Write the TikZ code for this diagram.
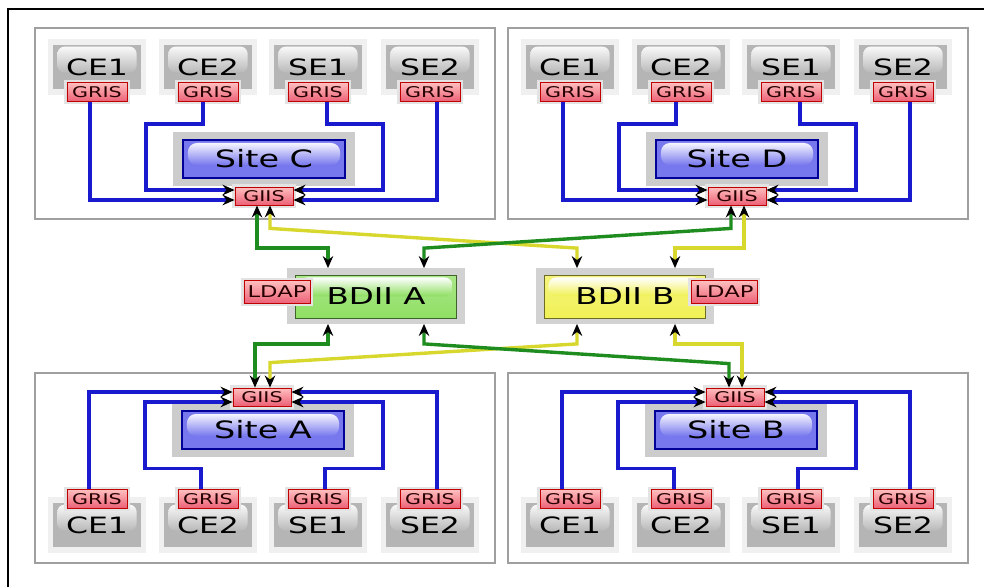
\documentclass[tikz,border=0pt]{standalone}
\usepackage{fontspec}
\usepackage{tikz}
\usetikzlibrary{arrows.meta,calc}
\newfontfamily\boxfont{DejaVu Sans}[FakeStretch=1.4]
\definecolor{lienB}{RGB}{25,25,205}
\definecolor{lienV}{RGB}{30,140,30}
\definecolor{lienJ}{RGB}{215,215,45}
\definecolor{siteF}{RGB}{120,120,238}
\definecolor{vertF}{RGB}{140,222,95}
\definecolor{jauneF}{RGB}{240,240,80}
\definecolor{rougeF}{RGB}{236,96,118}
\tikzset{
  sitearea/.style={draw=gray!75, line width=0.04cm},
  machine/.style={rectangle, inner sep=0pt, minimum width=2.43cm, minimum height=1.42cm, fill=gray!12,
    font=\boxfont\fontsize{16}{16}\selectfont,
    path picture={
      \fill[gray!58] ($(path picture bounding box.north west)+(5,6)$) rectangle ($(path picture bounding box.south east)+(-5,-6)$);
      \shade[top color=gray!5, bottom color=gray!55, rounded corners=0.18cm] ($(path picture bounding box.north west)+(9,8)$) rectangle ($(path picture bounding box.north east)+(-9,34)$);
    }},
  tag/.style={rectangle, inner sep=0pt, minimum width=1.5cm, minimum height=0.47cm, draw=red!75!black, line width=0.02cm,
    top color=red!25, bottom color=rougeF, text=red!15!black, font=\boxfont\fontsize{10.5}{10.5}\selectfont,
    preaction={draw=gray!22, line width=0.14cm}},
  sitebox/.style={rectangle, inner sep=0pt, minimum width=4.55cm, minimum height=1.35cm, fill=gray!40,
    font=\boxfont\fontsize{17}{17}\selectfont,
    path picture={
      \filldraw[fill=siteF, draw=blue!60!black, line width=0.05cm] ($(path picture bounding box.north west)+(10,8)$) rectangle ($(path picture bounding box.south east)+(-10,-8)$);
      \shade[top color=blue!4, bottom color=siteF, rounded corners=0.22cm] ($(path picture bounding box.north west)+(15,11)$) rectangle ($(path picture bounding box.north east)+(-15,33)$);
    }},
  bdii/.style={rectangle, inner sep=0pt, minimum width=4.43cm, minimum height=1.38cm, fill=gray!35,
    font=\boxfont\fontsize{16.5}{16.5}\selectfont,
    path picture={
      \filldraw[top color=#1!70, bottom color=#1, draw=#1!45!black, line width=0.03cm] ($(path picture bounding box.north west)+(8,7)$) rectangle ($(path picture bounding box.south east)+(-8,-5)$);
      \shade[top color=white, bottom color=#1, rounded corners=0.2cm] ($(path picture bounding box.north west)+(12,9)$) rectangle ($(path picture bounding box.north east)+(-12,28)$);
    }},
  feed/.style={-{Stealth[length=3mm, width=2.6mm, color=black]}, line width=0.085cm, draw=lienB},
  link/.style={<->, >={Stealth[length=3mm, width=2.6mm, color=black]}, line width=0.085cm, draw=#1},
}
\begin{document}
\begin{tikzpicture}[x=0.025cm, y=-0.025cm]
  \useasboundingbox (0,0) rectangle (984,587);
  \draw[line width=0.07cm] (8,587) -- (8,9) -- (984,9);

  \foreach \s/\dx in {C/0, D/473} {
    \draw[sitearea] (35+\dx,28) rectangle (495+\dx,219);
    \foreach \i/\m/\x in {1/CE1/97, 2/CE2/208, 3/SE1/318, 4/SE2/430} {
      \node[machine] (m\s\i) at (\x+\dx,67) {\m};
      \node[tag] (g\s\i) at (\x+\dx,92) {GRIS};
    }
    \node[sitebox] (site\s) at (264+\dx,159) {Site \s};
    \node[tag, minimum width=1.45cm, minimum height=0.45cm] (giis\s) at (264+\dx,196) {GIIS};
    \draw[feed] ($(g\s1.south)+(-7,0)$) |- ($(giis\s.west)+(0,4)$);
    \draw[feed] ($(g\s2.south)+(-5,0)$) -- ++(0,22) -- ++(-57,0) |- ($(giis\s.west)+(0,-6)$);
    \draw[feed] ($(g\s3.south)+(9,0)$) -- ++(0,22) -- ++(56,0) |- ($(giis\s.east)+(0,-6)$);
    \draw[feed] ($(g\s4.south)+(7,0)$) |- ($(giis\s.east)+(0,4)$);
  }

  \foreach \s/\dx in {A/0, B/473} {
    \draw[sitearea] (35+\dx,373) rectangle (495+\dx,563);
    \foreach \i/\m/\x in {1/CE1/97, 2/CE2/208, 3/SE1/318, 4/SE2/430} {
      \node[machine] (m\s\i) at (\x+\dx,525) {\m};
      \node[tag] (g\s\i) at (\x+\dx,499) {GRIS};
    }
    \node[sitebox] (site\s) at (263+\dx,430) {Site \s};
    \node[tag, minimum width=1.45cm, minimum height=0.45cm] (giis\s) at (262+\dx,397) {GIIS};
    \draw[feed] ($(g\s1.north)+(-8,0)$) |- ($(giis\s.west)+(0,-5)$);
    \draw[feed] ($(g\s2.north)+(-7,0)$) -- ++(0,-21) -- ++(-56,0) |- ($(giis\s.west)+(0,5)$);
    \draw[feed] ($(g\s3.north)+(7,0)$) -- ++(0,-21) -- ++(58,0) |- ($(giis\s.east)+(0,5)$);
    \draw[feed] ($(g\s4.north)+(7,0)$) |- ($(giis\s.east)+(0,-5)$);
  }

  \node[bdii=vertF] (bdiiA) at (376,296) {BDII A};
  \node[bdii=jauneF] (bdiiB) at (625,296) {BDII B};
  \node[tag, minimum width=1.65cm, minimum height=0.57cm, font=\boxfont\fontsize{11.5}{11.5}\selectfont] (ldapA) at (277,292) {LDAP};
  \node[tag, minimum width=1.65cm, minimum height=0.57cm, font=\boxfont\fontsize{11.5}{11.5}\selectfont] (ldapB) at (724,292) {LDAP};

  \draw[link=lienJ] ($(giisC.south)+(6,0)$) -- ++(0,23) -- ($(bdiiB.north)+(-48,-20)$) -- ($(bdiiB.north)+(-48,0)$);
  \draw[link=lienJ] ($(giisD.south)+(7,0)$) |- ($(bdiiB.north)+(50,-20)$) -- ($(bdiiB.north)+(50,0)$);
  \draw[link=lienJ] ($(bdiiB.south)+(-48,0)$) -- ++(0,20) -- ($(giisA.north)+(8,-25)$) -- ($(giisA.north)+(8,0)$);
  \draw[link=lienJ] ($(bdiiB.south)+(50,0)$) -- ++(0,20) -| ($(giisB.north)+(7,0)$);
  \draw[link=lienV] ($(giisC.south)+(-7,0)$) |- ($(bdiiA.north)+(-48,-20)$) -- ($(bdiiA.north)+(-48,0)$);
  \draw[link=lienV] ($(giisD.south)+(-6,0)$) -- ++(0,23) -- ($(bdiiA.north)+(48,-20)$) -- ($(bdiiA.north)+(48,0)$);
  \draw[link=lienV] ($(bdiiA.south)+(-48,0)$) -- ++(0,20) -| ($(giisA.north)+(-7,0)$);
  \draw[link=lienV] ($(bdiiA.south)+(48,0)$) -- ++(0,20) -- ($(giisB.north)+(-6,-24)$) -- ($(giisB.north)+(-6,0)$);
\end{tikzpicture}
\end{document}
